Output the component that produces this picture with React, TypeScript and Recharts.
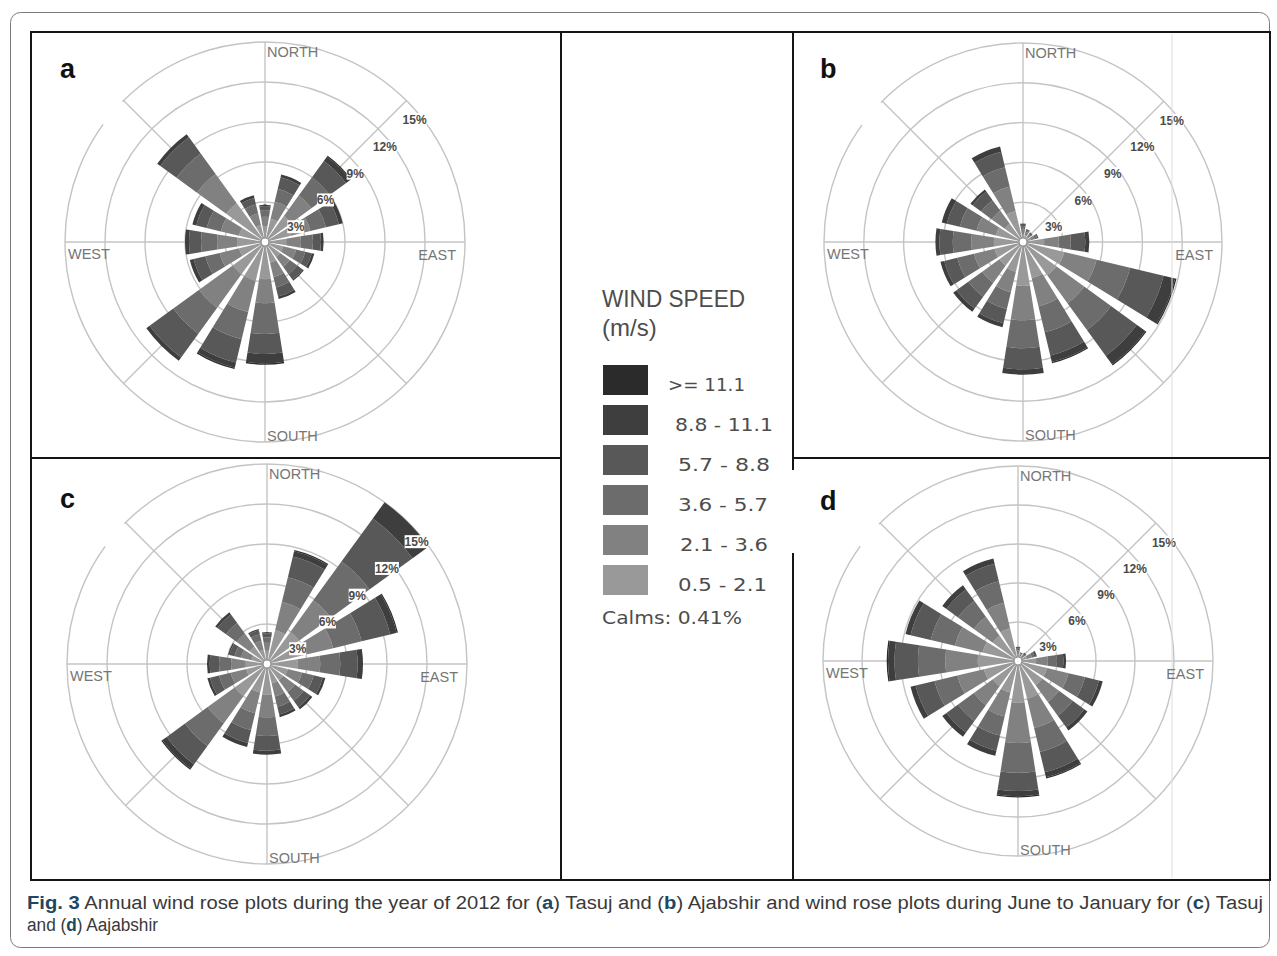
import React from "react";
import {
  PolarAngleAxis,
  PolarGrid,
  PolarRadiusAxis,
  RadialBar,
  RadialBarChart,
} from "recharts";

// 16 compass sectors, clockwise from north
const DIRECTIONS = ["N", "NNE", "NE", "ENE", "E", "ESE", "SE", "SSE", "S", "SSW", "SW", "WSW", "W", "WNW", "NW", "NNW"];

// speed classes, lowest first (stack order from the centre outwards)
const SPEED_KEYS = ["s1", "s2", "s3", "s4", "s5", "s6"];
const SPEED_LABELS = ["0.5 - 2.1", "2.1 - 3.6", "3.6 - 5.7", "5.7 - 8.8", "8.8 - 11.1", ">= 11.1"];
const SPEED_COLORS = ["#999999", "#818181", "#6c6c6c", "#585858", "#3e3e3e", "#2b2b2b"];

const PCT_TICKS = [0, 3, 6, 9, 12, 15];
const CALMS = "0.41%";

// frequency (%) per sector; columns follow SPEED_LABELS
const TASUJ_ANNUAL = [
  [1.2, 0.7, 0.5, 0.3, 0.1, 0], // N
  [1.8, 1.3, 1.0, 0.9, 0.2, 0],
  [2.4, 1.9, 1.7, 1.5, 0.4, 0.1],
  [2.0, 1.5, 1.2, 1.0, 0.3, 0],
  [1.6, 1.1, 0.9, 0.6, 0.2, 0], // E
  [1.4, 1.0, 0.7, 0.5, 0.2, 0],
  [1.4, 0.9, 0.7, 0.5, 0.1, 0],
  [1.6, 1.1, 0.8, 0.7, 0.2, 0],
  [2.8, 1.8, 2.3, 1.5, 0.7, 0.1], // S
  [3.0, 2.4, 2.1, 1.8, 0.4, 0.1],
  [3.0, 3.1, 2.4, 2.2, 0.3, 0],
  [2.0, 1.5, 1.1, 0.9, 0.3, 0],
  [2.1, 1.5, 1.2, 0.9, 0.3, 0], // W
  [2.0, 1.4, 1.1, 0.8, 0.3, 0],
  [3.6, 2.7, 1.9, 1.5, 0.3, 0],
  [1.3, 0.9, 0.7, 0.5, 0.2, 0],
];

const AJABSHIR_ANNUAL = [
  [0.6, 0.4, 0.2, 0.2, 0, 0], // N
  [0.5, 0.3, 0.1, 0.1, 0, 0],
  [0.5, 0.2, 0.1, 0.1, 0, 0],
  [0.6, 0.3, 0.2, 0.1, 0, 0],
  [1.6, 1.1, 0.9, 1.1, 0.3, 0], // E
  [3.2, 2.5, 2.6, 2.6, 0.9, 0.1],
  [3.1, 2.6, 2.5, 2.4, 0.8, 0.1],
  [2.8, 2.2, 2.0, 1.8, 0.5, 0.1],
  [3.3, 2.6, 2.1, 1.6, 0.4, 0], // S
  [2.3, 1.6, 1.3, 1.1, 0.3, 0],
  [2.2, 1.6, 1.3, 1.1, 0.3, 0],
  [2.2, 1.6, 1.3, 1.0, 0.3, 0],
  [2.2, 1.7, 1.4, 1.0, 0.3, 0], // W
  [2.1, 1.5, 1.3, 1.0, 0.4, 0],
  [1.7, 1.2, 1.0, 0.8, 0.2, 0],
  [2.4, 1.9, 1.5, 1.2, 0.4, 0],
];

const TASUJ_JUN_JAN = [
  [1.0, 0.6, 0.4, 0.3, 0.1, 0], // N
  [2.6, 2.2, 1.9, 1.6, 0.4, 0.1],
  [3.0, 2.9, 3.6, 4.0, 1.5, 0.4],
  [2.8, 2.3, 2.2, 2.2, 0.5, 0.1],
  [2.3, 1.7, 1.5, 1.3, 0.4, 0], // E
  [1.6, 1.1, 0.9, 0.7, 0.2, 0],
  [1.5, 1.1, 0.8, 0.6, 0.2, 0],
  [1.5, 1.0, 0.8, 0.6, 0.2, 0],
  [2.3, 1.7, 1.4, 1.1, 0.3, 0], // S
  [2.2, 1.6, 1.3, 1.0, 0.3, 0],
  [3.0, 2.5, 2.1, 1.7, 0.4, 0.1],
  [1.6, 1.2, 0.9, 0.7, 0.2, 0],
  [1.6, 1.1, 0.9, 0.7, 0.2, 0], // W
  [1.2, 0.8, 0.5, 0.4, 0.1, 0],
  [1.6, 1.2, 1.0, 0.8, 0.2, 0],
  [1.1, 0.7, 0.5, 0.3, 0.1, 0],
];

const AJABSHIR_JUN_JAN = [
  [0.5, 0.3, 0.2, 0.1, 0, 0], // N
  [0.4, 0.2, 0.1, 0, 0, 0],
  [0.4, 0.2, 0.1, 0.1, 0, 0],
  [0.7, 0.4, 0.2, 0.2, 0, 0],
  [1.4, 0.9, 0.7, 0.5, 0.2, 0], // E
  [2.3, 1.7, 1.3, 1.1, 0.3, 0],
  [2.3, 1.6, 1.3, 1.1, 0.3, 0],
  [3.0, 2.3, 1.9, 1.6, 0.4, 0.1],
  [3.2, 3.1, 2.3, 1.4, 0.4, 0.1], // S
  [2.5, 1.9, 1.5, 1.2, 0.4, 0],
  [2.4, 1.8, 1.5, 1.1, 0.4, 0],
  [2.7, 2.1, 1.8, 1.5, 0.4, 0],
  [3.1, 2.5, 2.1, 1.8, 0.5, 0.1], // W
  [2.8, 2.2, 1.9, 1.6, 0.4, 0],
  [2.4, 1.8, 1.5, 1.1, 0.4, 0],
  [2.6, 2.0, 1.7, 1.4, 0.4, 0],
];

const PANELS = [
  { id: "a", table: TASUJ_ANNUAL, cx: 265, cy: 242, r: 200, lx: 60, ly: 78 },
  { id: "b", table: AJABSHIR_ANNUAL, cx: 1023, cy: 242, r: 199, lx: 820, ly: 78 },
  { id: "c", table: TASUJ_JUN_JAN, cx: 267, cy: 664, r: 200, lx: 60, ly: 508 },
  { id: "d", table: AJABSHIR_JUN_JAN, cx: 1018, cy: 661, r: 195, lx: 820, ly: 510 },
];

const CAPTION_1: [string, boolean][] = [
  ["Fig. 3", true],
  [" Annual wind rose plots during the year of 2012 for (", false],
  ["a", true],
  [") Tasuj and (", false],
  ["b", true],
  [") Ajabshir and wind rose plots during June to January for (", false],
  ["c", true],
  [") Tasuj", false],
];
const CAPTION_2: [string, boolean][] = [
  ["and (", false],
  ["d", true],
  [") Aajabshir", false],
];

const SANS = "'Liberation Sans', Arial, sans-serif";
const WIDE = "'DejaVu Sans', Verdana, sans-serif";
const SPOKES = [90, 45, 0, -45, -90, -135, 180, 135];
const CHART = 440;

function toRows(table: number[][]) {
  return DIRECTIONS.map((dir, i) => {
    const row: Record<string, number | string> = { dir };
    SPEED_KEYS.forEach((k, j) => (row[k] = table[i][j]));
    return row;
  });
}

function PctTick(props: any) {
  const { x, y, payload } = props;
  if (!payload || payload.value === 0) return <g />;
  const label = `${payload.value}%`;
  const w = label.length * 7 + 3;
  return (
    <g>
      <rect x={x + 1 - w / 2} y={y + 5} width={w} height={13} fill="#fff" />
      <text
        x={x + 1}
        y={y + 16}
        textAnchor="middle"
        fontSize={12}
        fontWeight="bold"
        fontFamily={SANS}
        fill="#4a4a4a"
      >
        {label}
      </text>
    </g>
  );
}

// Recharts draws each band counter-clockwise from its start, so the first
// sector (N) has to start half a band right of 12 o'clock to end up centred on it.
function Rose({ table, cx, cy, r }: { table: number[][]; cx: number; cy: number; r: number }) {
  const rows = toRows(table);
  return (
    <div style={{ position: "absolute", left: cx - CHART / 2, top: cy - CHART / 2, width: CHART, height: CHART, zIndex: 1 }}>
      <RadialBarChart
        width={CHART}
        height={CHART}
        cx={CHART / 2}
        cy={CHART / 2}
        innerRadius={0}
        outerRadius={r}
        startAngle={78.75}
        endAngle={-281.25}
        layout="centric"
        data={rows}
        barCategoryGap="10%"
        margin={{ top: 0, right: 0, bottom: 0, left: 0 }}
      >
        <PolarGrid gridType="circle" polarAngles={SPOKES} stroke="#c4c4c4" strokeWidth={1.4} />
        <PolarAngleAxis type="category" dataKey="dir" tick={false} axisLine={false} tickLine={false} />
        {SPEED_KEYS.map((k, i) => (
          <RadialBar key={k} dataKey={k} stackId="rose" fill={SPEED_COLORS[i]} isAnimationActive={false} />
        ))}
        <PolarRadiusAxis
          type="number"
          domain={[0, 15]}
          ticks={PCT_TICKS}
          angle={42}
          axisLine={false}
          tickLine={false}
          allowDataOverflow
          tick={(p: any) => <PctTick {...p} />}
        />
      </RadialBarChart>
    </div>
  );
}

function arcCover(cx: number, cy: number, r: number, from: number, to: number) {
  const pt = (b: number) => {
    const a = (b * Math.PI) / 180;
    return `${cx + r * Math.sin(a)} ${cy - r * Math.cos(a)}`;
  };
  return `M ${pt(from)} A ${r} ${r} 0 0 1 ${pt(to)}`;
}

function Compass({ cx, cy, r }: { cx: number; cy: number; r: number }) {
  const style = { fontSize: 14.5, fontFamily: SANS, fill: "#767676" } as const;
  return (
    <g>
      <text x={cx + 2} y={cy - r + 15} {...style}>NORTH</text>
      <text x={cx + 2} y={cy + r - 1} {...style}>SOUTH</text>
      <text x={cx - r + 3} y={cy + 17} {...style}>WEST</text>
      <text x={cx + r - 9} y={cy + 18} textAnchor="end" {...style}>EAST</text>
      <path d={arcCover(cx, cy, r, 306, 314.5)} stroke="#fff" strokeWidth={5} fill="none" />
      <circle cx={cx} cy={cy} r={4} fill="#fff" stroke="#8a8a8a" strokeWidth={1.2} />
    </g>
  );
}

function Caption({ parts, y, length }: { parts: [string, boolean][]; y: number; length: number }) {
  return (
    <text
      x={27}
      y={y}
      fontSize={18}
      fontFamily="'Liberation Sans Narrow', 'Liberation Sans', sans-serif"
      fill="#3a3a3a"
      textLength={length}
      lengthAdjust="spacingAndGlyphs"
      style={{ whiteSpace: "pre" }}
    >
      {parts.map(([t, bold], i) => (
        <tspan key={i} fontWeight={bold ? "bold" : "normal"} fill={bold ? "#1d4863" : "#3a3a3a"}>
          {t}
        </tspan>
      ))}
    </text>
  );
}

export default function App() {
  const legendRows = SPEED_LABELS.map((label, i) => ({ label, color: SPEED_COLORS[i] })).reverse();
  const legendWidths = [77, 98, 92, 90, 88, 89];
  const legendX = [668, 675, 678, 678, 680, 678];
  return (
    <div style={{ position: "absolute", left: 0, top: 0, width: 1277, height: 956, background: "#fff", overflow: "hidden" }}>
      {PANELS.map((p) => (
        <Rose key={p.id} table={p.table} cx={p.cx} cy={p.cy} r={p.r} />
      ))}
      <svg width={1277} height={956} style={{ position: "absolute", left: 0, top: 0, zIndex: 2, pointerEvents: "none" }}>
        {/* page outline and figure frame */}
        <rect x={10.5} y={12.5} width={1259} height={935} rx={10} fill="none" stroke="#7a7a7a" strokeWidth={1} />
        <line x1={1172} y1={34} x2={1172} y2={878} stroke="#dedede" strokeWidth={1} />
        <rect x={31} y={32} width={1239} height={848} fill="none" stroke="#151515" strokeWidth={2} />
        <line x1={561} y1={32} x2={561} y2={880} stroke="#151515" strokeWidth={2} />
        <line x1={793} y1={32} x2={793} y2={470} stroke="#151515" strokeWidth={2} />
        <line x1={793} y1={553} x2={793} y2={880} stroke="#151515" strokeWidth={2} />
        <line x1={31} y1={458} x2={561} y2={458} stroke="#151515" strokeWidth={2} />
        <line x1={793} y1={458} x2={1270} y2={458} stroke="#151515" strokeWidth={2} />

        {PANELS.map((p) => (
          <g key={p.id}>
            <Compass cx={p.cx} cy={p.cy} r={p.r} />
            <text x={p.lx} y={p.ly} fontSize={27} fontWeight="bold" fontFamily={SANS} fill="#111">
              {p.id}
            </text>
          </g>
        ))}

        {/* legend */}
        <text x={602} y={307} fontSize={24} fontFamily={SANS} fill="#4d4d4d" textLength={143} lengthAdjust="spacingAndGlyphs">
          WIND SPEED
        </text>
        <text x={602} y={336} fontSize={24} fontFamily={SANS} fill="#4d4d4d">
          (m/s)
        </text>
        {legendRows.map((row, i) => (
          <g key={row.label}>
            <rect x={603} y={365 + i * 40} width={45} height={30} fill={row.color} />
            <text
              x={legendX[i]}
              y={391 + i * 40}
              fontSize={17}
              fontFamily={WIDE}
              fill="#4d4d4d"
              textLength={legendWidths[i]}
              lengthAdjust="spacingAndGlyphs"
            >
              {row.label}
            </text>
          </g>
        ))}
        <text x={602} y={624} fontSize={17} fontFamily={WIDE} fill="#4d4d4d" textLength={140} lengthAdjust="spacingAndGlyphs">
          {`Calms: ${CALMS}`}
        </text>

        <Caption parts={CAPTION_1} y={909} length={1236} />
        <Caption parts={CAPTION_2} y={931} length={131} />
      </svg>
    </div>
  );
}
